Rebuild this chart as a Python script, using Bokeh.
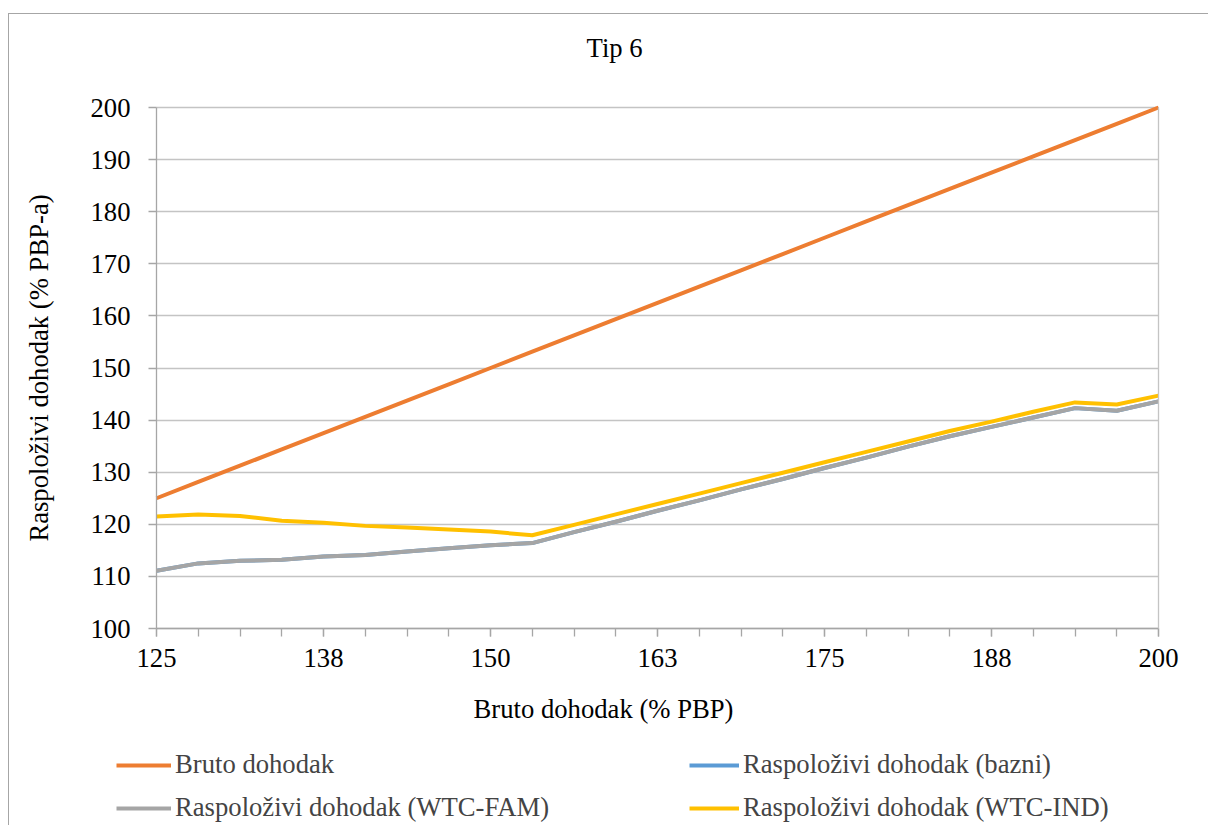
from bokeh.plotting import figure
from bokeh.models import (Range1d, FixedTicker, NumeralTickFormatter, Label, Legend,
                          LegendItem, LinearAxis)
from bokeh.embed import file_html
from bokeh.resources import INLINE

# ---- data ----
gross = [125, 128.125, 131.25, 134.375, 137.5, 140.625, 143.75, 146.875, 150,
         153.125, 156.25, 159.375, 162.5, 165.625, 168.75, 171.875, 175,
         178.125, 181.25, 184.375, 187.5, 190.625, 193.75, 196.875, 200]
bruto = [125, 128.125, 131.25, 134.375, 137.5, 140.625, 143.75, 146.875, 150,
         153.125, 156.25, 159.375, 162.5, 165.625, 168.75, 171.875, 175,
         178.125, 181.25, 184.375, 187.5, 190.625, 193.75, 196.875, 200]
bazni = [111.1, 112.5, 113.0, 113.2, 113.8, 114.1, 114.8, 115.4, 116.0, 116.4,
         118.5, 120.5, 122.6, 124.6, 126.7, 128.7, 130.8, 132.8, 134.9, 136.9,
         138.7, 140.5, 142.3, 141.8, 143.6]
wtc_fam = [111.1, 112.5, 113.0, 113.2, 113.8, 114.1, 114.8, 115.4, 116.0, 116.4,
           118.5, 120.5, 122.6, 124.6, 126.7, 128.7, 130.8, 132.8, 134.9, 136.9,
           138.7, 140.5, 142.3, 141.8, 143.6]
wtc_ind = [121.5, 121.9, 121.6, 120.7, 120.3, 119.7, 119.4, 119.0, 118.6, 117.9,
           119.9, 121.9, 123.9, 125.9, 127.9, 129.9, 131.9, 133.9, 135.9, 137.9,
           139.7, 141.6, 143.4, 143.0, 144.7]
x_label_ticks = [125, 137.5, 150, 162.5, 175, 187.5, 200]
y_ticks = [100, 110, 120, 130, 140, 150, 160, 170, 180, 190, 200]

title_text = "Tip 6"
x_title = "Bruto dohodak (% PBP)"
y_title = "Raspoloživi dohodak (% PBP-a)"
names = ["Bruto dohodak", "Raspoloživi dohodak (bazni)",
         "Raspoloživi dohodak (WTC-FAM)", "Raspoloživi dohodak (WTC-IND)"]

FONT = "Liberation Serif"
FS = "26.67px"
AXIS_COL = "#a6a6a6"
GRID_COL = "#c4c4c4"
X0, X1 = 125, 200     # plot-area data extent
Y0, Y1 = 100, 200

# the frame covers the whole chart box; the plot area sits inside it
p = figure(width=1200, height=812,
           x_range=Range1d(113.997, 203.817), y_range=Range1d(62.0, 217.85),
           output_backend="svg", toolbar_location=None, min_border=0)
p.margin = (13, 0, 0, 8)
p.styles = {"border-left": "1px solid #a6a6a6", "border-top": "1px solid #a6a6a6"}
p.outline_line_color = None

# gridlines limited to the plot area
try:
    p.ygrid[0].cross_bounds = (X0, X1)
    p.ygrid.grid_line_color = GRID_COL
    p.ygrid.grid_line_width = 1.3
    p.ygrid[0].ticker = FixedTicker(ticks=y_ticks)
except Exception:
    p.ygrid.grid_line_color = None
    p.segment(x0=X0, x1=X1, y0=y_ticks, y1=y_ticks, line_color=GRID_COL, line_width=1.3)
p.xgrid.grid_line_color = None

# lines
lw = 4
r_bruto = p.line(gross, bruto, line_color="#ED7D31", line_width=lw, line_join="round")
r_bazni = p.line(gross, bazni, line_color="#5B9BD5", line_width=lw, line_join="round")
r_fam = p.line(gross, wtc_fam, line_color="#A5A5A5", line_width=lw, line_join="round")
r_ind = p.line(gross, wtc_ind, line_color="#FFC000", line_width=lw, line_join="round")

# axes pinned inside the frame
xa = p.xaxis[0]
ya = p.yaxis[0]
xa.fixed_location = Y0
xa.bounds = (X0, X1)
ya.fixed_location = X0
ya.bounds = (Y0, Y1)
xa.ticker = FixedTicker(ticks=x_label_ticks, minor_ticks=gross)
xa.formatter = NumeralTickFormatter(format="0")
ya.ticker = FixedTicker(ticks=y_ticks)
for ax in (xa, ya):
    ax.axis_line_color = AXIS_COL
    ax.axis_line_width = 1.3
    ax.major_tick_line_color = AXIS_COL
    ax.major_tick_line_width = 1.3
    ax.major_tick_in = 0
    ax.major_tick_out = 8
    ax.minor_tick_line_color = AXIS_COL
    ax.minor_tick_line_width = 1.3
    ax.minor_tick_in = 0
    ax.minor_tick_out = 8
    ax.major_label_text_font = FONT
    ax.major_label_text_font_size = FS
    ax.major_label_text_color = "black"
    ax.axis_label_text_font = FONT
    ax.axis_label_text_font_size = FS
    ax.axis_label_text_font_style = "normal"
    ax.axis_label_text_color = "black"
ya.minor_tick_line_color = None
xa.major_label_standoff = 12
ya.major_label_standoff = 18
ya.axis_label = y_title
ya.axis_label_standoff = 34

# right border of the plot area
ra = LinearAxis(fixed_location=X1, bounds=(Y0, Y1), axis_line_color=GRID_COL,
                axis_line_width=1.3, major_tick_line_color=None,
                minor_tick_line_color=None, major_label_text_font_size="0px",
                ticker=FixedTicker(ticks=[]))
p.add_layout(ra, "right")

# chart title and x-axis title
p.add_layout(Label(x=157.19, y=211.38, text=title_text, text_font=FONT,
                   text_font_size=FS, text_align="left", text_baseline="alphabetic",
                   text_color="black"))
p.add_layout(Label(x=148.73, y=84.64, text=x_title, text_font=FONT,
                   text_font_size=FS, text_align="left", text_baseline="alphabetic",
                   text_color="black"))

def make_legend(items, x, gw):
    return Legend(items=items, location=(x, 3), orientation="vertical",
                  padding=0, margin=0, spacing=12, border_line_color=None,
                  background_fill_alpha=0, label_text_font=FONT,
                  label_text_font_size=FS, label_height=24, glyph_height=24,
                  glyph_width=gw, label_standoff=4, label_text_baseline="middle")

p.add_layout(make_legend([LegendItem(label=names[0], renderers=[r_bruto]),
                          LegendItem(label=names[2], renderers=[r_fam])], 107, 55))
p.add_layout(make_legend([LegendItem(label=names[1], renderers=[r_bazni]),
                          LegendItem(label=names[3], renderers=[r_ind])], 680, 50))

open("out.html", "w").write(file_html(p, INLINE))
